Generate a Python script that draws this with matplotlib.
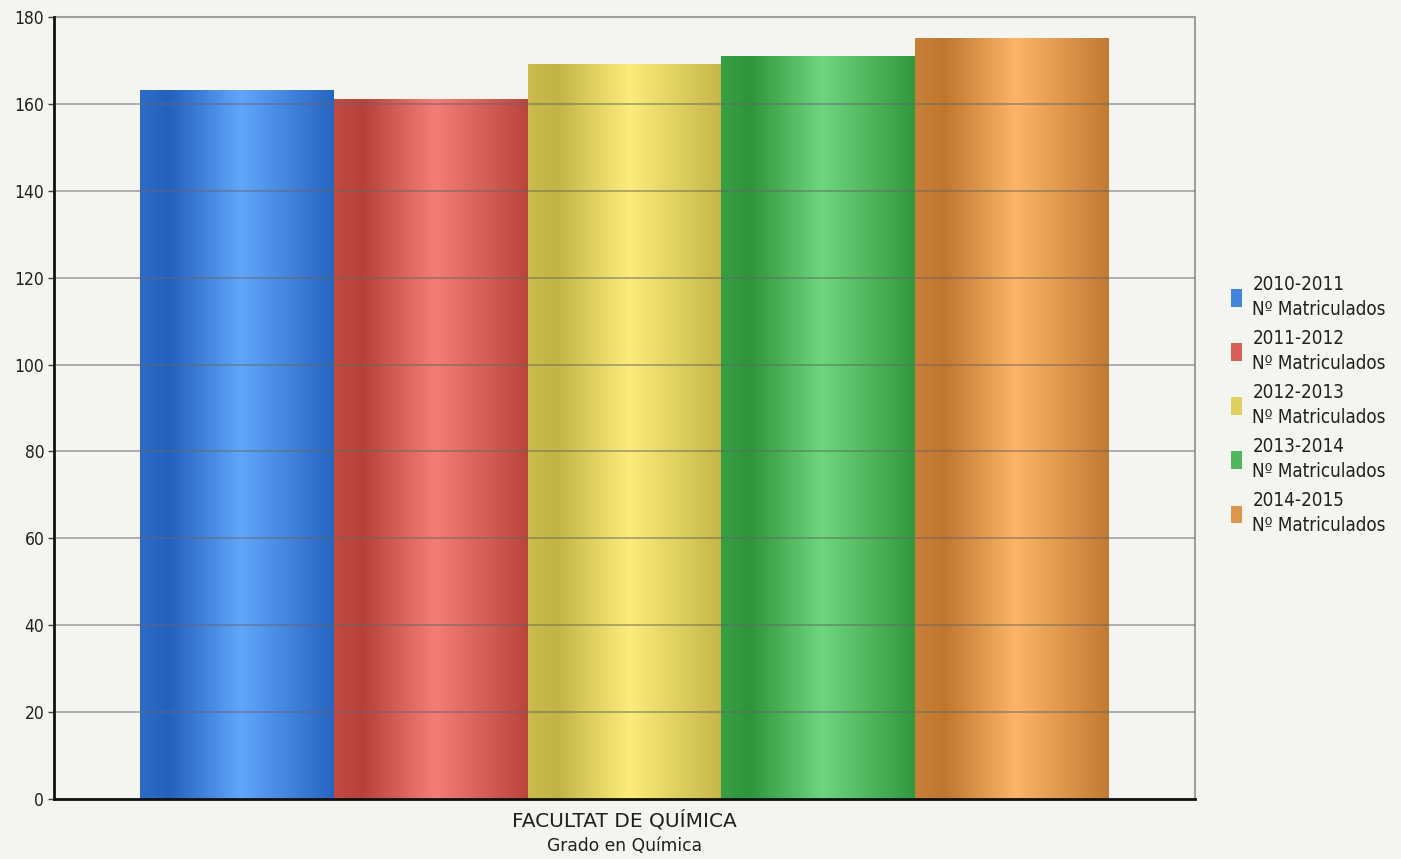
import numpy as np
import matplotlib
matplotlib.use("Agg")
import matplotlib.pyplot as plt
from matplotlib.patches import Patch

plt.rcParams['font.family'] = ['DejaVu Sans']
plt.rcParams['font.stretch'] = 'condensed'

# data
seasons = ["2010-2011", "2011-2012", "2012-2013", "2013-2014", "2014-2015"]
matriculados = [163, 161, 169, 171, 175]
series_label = "Nº Matriculados"
category = "FACULTAT DE QUÍMICA"
subcategory = "Grado en Química"
y_ticks = [0, 20, 40, 60, 80, 100, 120, 140, 160, 180]

# dark / light tones for the cylinder shading
dark_colors = ["#2361bd", "#b8423a", "#c2b444", "#2f953d", "#c0762e"]
light_colors = ["#62a6fc", "#f47e76", "#fcec7c", "#6ed67e", "#fcb46a"]

BG = "#f4f4f0"


def hex_rgb(h):
    h = h.lstrip("#")
    return np.array([int(h[i:i + 2], 16) / 255 for i in (0, 2, 4)])


def shade_strip(dark, light, n=200):
    x = np.linspace(0, 1, n)
    t = np.interp(x, [0, 0.15, 0.52, 1.0], [0.15, 0.0, 1.0, 0.05])
    d, l = hex_rgb(dark), hex_rgb(light)
    return (d[None, :] + (l - d)[None, :] * t[:, None])[None, :, :]


fig = plt.figure(figsize=(14.01, 8.59), dpi=100, facecolor=BG)
ax = fig.add_axes([54 / 1401, 1 - 799 / 859, (1195 - 54) / 1401, (799 - 17) / 859])
ax.set_facecolor(BG)

for i, v in enumerate(matriculados):
    ax.imshow(shade_strip(dark_colors[i], light_colors[i]), extent=(i - 0.5, i + 0.5, 0, v),
              aspect="auto", interpolation="bilinear", zorder=2)

ax.set_xlim(-0.944, 4.944)
ax.set_ylim(0, 180)
ax.set_yticks(y_ticks)
ax.set_xticks([])
ax.tick_params(axis="y", length=4, width=1, color="#404040", labelsize=12.5, labelcolor="#202020", pad=3)

# grid on top of the bars, slightly see-through
for y in y_ticks[1:-1]:
    ax.axhline(y, color="#666666", lw=1.4, alpha=0.5, zorder=3)

for side in ("top", "right"):
    ax.spines[side].set_color("#a0a0a0")
    ax.spines[side].set_linewidth(1.5)
for side in ("left", "bottom"):
    ax.spines[side].set_color("#101010")
    ax.spines[side].set_linewidth(2)
    ax.spines[side].set_zorder(5)

ax.text(0.5, -0.027, category, transform=ax.transAxes, ha="center", va="center",
        fontsize=14.5, fontstretch="normal", color="#202020")
ax.text(0.5, -0.060, subcategory, transform=ax.transAxes, ha="center", va="center",
        fontsize=12.3, fontstretch="normal", color="#202020")

handles = [Patch(facecolor=(hex_rgb(d) + hex_rgb(l)) / 2, edgecolor="none") for d, l in zip(dark_colors, light_colors)]
labels = [f"{s}\n{series_label}" for s in seasons]
leg = fig.legend(handles, labels, loc="center left", bbox_to_anchor=(1214 / 1401, 1 - 405 / 859),
                 frameon=False, fontsize=13.5, handlelength=0.6, handleheight=1.05,
                 handletextpad=0.55, labelspacing=0.52, labelcolor="#202020")
for t in leg.get_texts():
    t.set_linespacing(1.42)

fig.savefig("out.png", dpi=100, facecolor=BG)
